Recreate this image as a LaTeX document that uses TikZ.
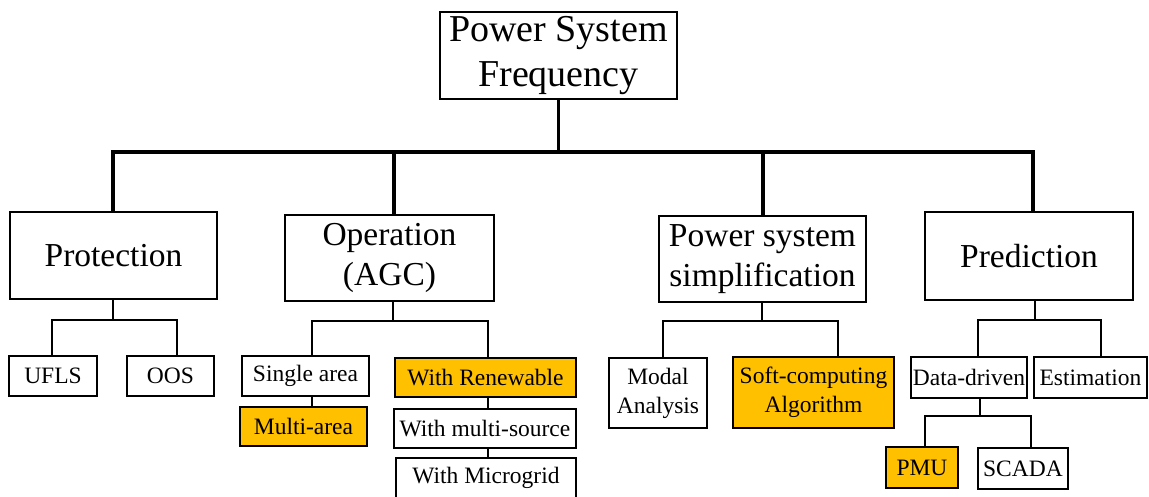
\documentclass[tikz,border=0pt]{standalone}
\usepackage{fontspec}
\setmainfont{Liberation Serif}
\definecolor{hilite}{HTML}{FFC000}
\tikzset{
  box/.style={draw=black, line width=1.4pt, inner sep=0pt, align=center, text=black},
  rootbox/.style={box, line width=1.3pt, font=\fontsize{38}{45}\selectfont},
  topicbox/.style={box, line width=1.5pt, font=\fontsize{33.5}{39.5}\selectfont},
  leafbox/.style={box, line width=1.6pt, font=\fontsize{23.5}{29}\selectfont},
  marked/.style={fill=hilite},
  wh/.style 2 args={minimum width=#1pt, minimum height=#2pt},
  bus/.style={line width=3.1pt, line cap=rect},
  link/.style={line width=1.6pt},
}
\begin{document}
\begin{tikzpicture}[x=1pt, y=-1pt]
\useasboundingbox (0,0) rectangle (1149,496);

% root
\node[rootbox, wh={237}{87}] (root) at (558.5,55.5) {Power System\\Frequency};

% main topics
\node[topicbox, wh={207}{87}] (prot) at (113.5,255.5) {Protection};
\node[topicbox, wh={209}{86}] (oper) at (389.5,258) {Operation\\(AGC)};
\node[topicbox, wh={207}{86}] (simp) at (762.5,259) {Power system\\simplification};
\node[topicbox, wh={208}{88}] (pred) at (1029,256) {Prediction};

% leaves
\node[leafbox, wh={88}{40}] (ufls) at (53,376) {UFLS};
\node[leafbox, wh={87}{40}] (oos) at (170.5,376) {OOS};
\node[leafbox, wh={127}{40}] (single) at (305.5,376) {Single area};
\node[leafbox, marked, wh={127}{39}] (multi) at (303.5,426.5) {Multi-area};
\node[leafbox, marked, wh={181}{39}] (renew) at (485.5,377.5) {With Renewable};
\node[leafbox, wh={182}{39}] (msrc) at (485,428.5) {With multi-source};
\node[leafbox, wh={180}{40}] (micro) at (486,478) {With Microgrid};
\node[leafbox, wh={98}{70}] (modal) at (658,393) {Modal\\Analysis};
\node[leafbox, marked, wh={161}{71}] (soft) at (813.5,392.5) {Soft-computing\\Algorithm};
\node[leafbox, wh={116}{41}] (ddriven) at (969,377.5) {Data-driven};
\node[leafbox, wh={113}{41}] (estim) at (1090.5,377.5) {Estimation};
\node[leafbox, marked, wh={72}{41}] (pmu) at (922,467.5) {PMU};
\node[leafbox, wh={90}{41}] (scada) at (1023,468.5) {SCADA};

% top-level bus
\coordinate (bProt) at (113,152);
\coordinate (bOper) at (394,152);
\coordinate (bSimp) at (763,152);
\coordinate (bPred) at (1033,152);
\draw[bus] (root.south) -- (root.south |- bProt);
\draw[bus] (bProt) -- (bPred);
\draw[bus] (bProt) -- (bProt |- prot.north);
\draw[bus] (bOper) -- (bOper |- oper.north);
\draw[bus] (bSimp) -- (bSimp |- simp.north);
\draw[bus] (bPred) -- (bPred |- pred.north);

% Protection branch
\coordinate (jProt) at (113,320);
\coordinate (jUfls) at (52,320);
\coordinate (jOos) at (177,320);
\draw[link] (prot.south -| jProt) -- (jProt);
\draw[link] (jUfls |- ufls.north) -- (jUfls) -- (jOos) -- (jOos |- oos.north);

% Operation branch
\coordinate (jOper) at (393,321);
\coordinate (jSingle) at (312,321);
\coordinate (jRenew) at (488,321);
\draw[link] (oper.south -| jOper) -- (jOper);
\draw[link] (jSingle |- single.north) -- (jSingle) -- (jRenew) -- (jRenew |- renew.north);
\draw[link] (jSingle |- single.south) -- (jSingle |- multi.north);
\draw[link] (jRenew |- renew.south) -- (jRenew |- msrc.north);
\draw[link] (jRenew |- msrc.south) -- (jRenew |- micro.north);

% Simplification branch
\coordinate (jSimp) at (762,321);
\coordinate (jModal) at (663,321);
\coordinate (jSoft) at (838,321);
\draw[link] (simp.south -| jSimp) -- (jSimp);
\draw[link] (jModal |- modal.north) -- (jModal) -- (jSoft) -- (jSoft |- soft.north);

% Prediction branch
\coordinate (jPred) at (1035,320);
\coordinate (jData) at (978,320);
\coordinate (jEstim) at (1101,320);
\draw[link] (pred.south -| jPred) -- (jPred);
\draw[link] (jData |- ddriven.north) -- (jData) -- (jEstim) -- (jEstim |- estim.north);

% Data-driven branch
\coordinate (jDd) at (980,416);
\coordinate (jPmu) at (925,416);
\coordinate (jScada) at (1031,416);
\draw[link] (ddriven.south -| jDd) -- (jDd);
\draw[link] (jPmu |- pmu.north) -- (jPmu) -- (jScada) -- (jScada |- scada.north);
\end{tikzpicture}
\end{document}
